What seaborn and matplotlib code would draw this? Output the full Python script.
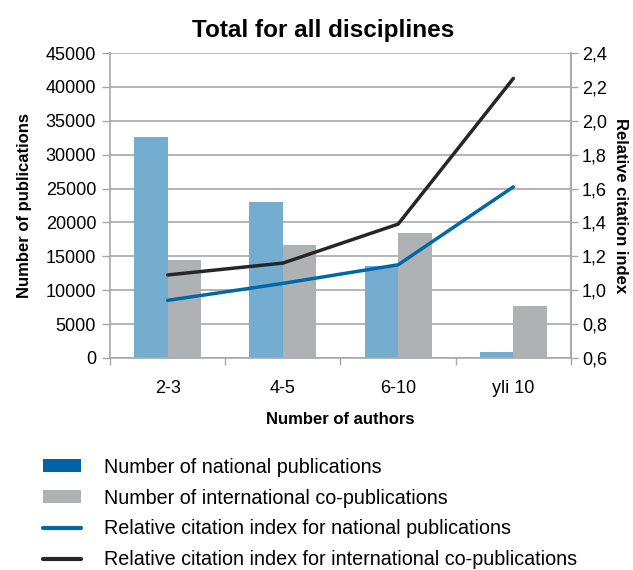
import numpy as np
import pandas as pd
import matplotlib
matplotlib.use("Agg")
import matplotlib.pyplot as plt
import seaborn as sns
from matplotlib.patches import Patch
from matplotlib.lines import Line2D
from matplotlib.ticker import FuncFormatter

# ==========================================
# Data
# ==========================================
categories = ["2-3", "4-5", "6-10", "yli 10"]
national_pubs = [32600, 23000, 13600, 850]
international_pubs = [14400, 16600, 18500, 7650]
rci_national = [0.94, 1.04, 1.15, 1.61]
rci_international = [1.09, 1.16, 1.39, 2.25]

series_names = ["Number of national publications",
                "Number of international co-publications",
                "Relative citation index for national publications",
                "Relative citation index for international co-publications"]

# colours
BAR_BLUE = "#75ADD1"
BAR_GRAY = "#AFB2B5"
LINE_BLUE = "#0068A8"
LINE_BLACK = "#262626"
LEGEND_BLUE = "#0063A6"
GRID = "#A8A8A8"

sns.set_theme(style="white")
plt.rcParams["font.family"] = ["Liberation Sans", "DejaVu Sans"]
plt.rcParams["text.color"] = "black"
plt.rcParams["axes.labelcolor"] = "black"
plt.rcParams["xtick.color"] = "black"
plt.rcParams["ytick.color"] = "black"

bars_df = pd.DataFrame({
    "authors": categories * 2,
    "count": national_pubs + international_pubs,
    "series": [series_names[0]] * len(categories) + [series_names[1]] * len(categories),
})

fig = plt.figure(figsize=(6.33, 5.70), dpi=100)
ax = fig.add_axes([0.1738, 0.372, 0.7282, 0.535])

sns.barplot(data=bars_df, x="authors", y="count", hue="series",
            palette=[BAR_BLUE, BAR_GRAY], width=0.58, saturation=1,
            linewidth=0, ax=ax, legend=False)

ax.set_xlim(-0.5, len(categories) - 0.5)
ax.set_ylim(0, 45000)
ax.set_yticks(np.arange(0, 45001, 5000))
ax.yaxis.grid(True, color=GRID, linewidth=1.2)
ax.set_axisbelow(True)

# category boundaries as tick marks, labels in the middle
ax.set_xticks(np.arange(-0.5, len(categories)), labels=[""] * (len(categories) + 1))
ax.set_xticks(np.arange(len(categories)), labels=categories, minor=True)
ax.tick_params(axis="x", which="major", direction="out", length=5, width=1, color=GRID, bottom=True)
ax.tick_params(axis="x", which="minor", length=0, labelsize=13, pad=16)
ax.tick_params(axis="y", direction="out", length=6, width=1, color=GRID, left=True,
               labelsize=13, pad=4)

for side in ["left", "bottom", "right"]:
    ax.spines[side].set_color(GRID)
    ax.spines[side].set_linewidth(1.2)
ax.spines["top"].set_visible(False)

ax.set_xlabel("Number of authors", fontsize=12, fontweight="bold", labelpad=11)
ax.set_ylabel("Number of publications", fontsize=12, fontweight="bold", labelpad=10)

# secondary axis for the citation index
ax2 = ax.twinx()
x_pos = np.arange(len(categories))
sns.lineplot(x=x_pos, y=rci_national, color=LINE_BLUE, linewidth=2.5, ax=ax2)
sns.lineplot(x=x_pos, y=rci_international, color=LINE_BLACK, linewidth=2.5, ax=ax2)
ax2.set_ylim(0.6, 2.4)
ax2.set_yticks(np.arange(0.6, 2.41, 0.2))
ax2.yaxis.set_major_formatter(FuncFormatter(lambda v, p: f"{v:.1f}".replace(".", ",")))
ax2.tick_params(axis="y", direction="out", length=5, width=1, color=GRID, right=True,
                labelsize=13, pad=3)
for side in ["left", "bottom", "top"]:
    ax2.spines[side].set_visible(False)
ax2.spines["right"].set_color(GRID)
ax2.spines["right"].set_linewidth(1.2)
ax2.set_ylabel("Relative citation index", fontsize=12, fontweight="bold",
               rotation=-90, labelpad=15)

fig.suptitle("Total for all disciplines", x=0.51, y=0.967, fontsize=17.5, fontweight="bold")

handles = [
    Patch(facecolor=LEGEND_BLUE, edgecolor="none"),
    Patch(facecolor=BAR_GRAY, edgecolor="none"),
    Line2D([], [], color=LINE_BLUE, linewidth=3),
    Line2D([], [], color=LINE_BLACK, linewidth=3),
]
fig.legend(handles, series_names, loc="upper left", bbox_to_anchor=(0.068, 0.197),
           frameon=False, fontsize=14.2, handlelength=1.9, handleheight=0.6,
           handletextpad=1.2, labelspacing=0.6, borderaxespad=0, borderpad=0)

plt.savefig("out.png", dpi=100)
plt.close()
